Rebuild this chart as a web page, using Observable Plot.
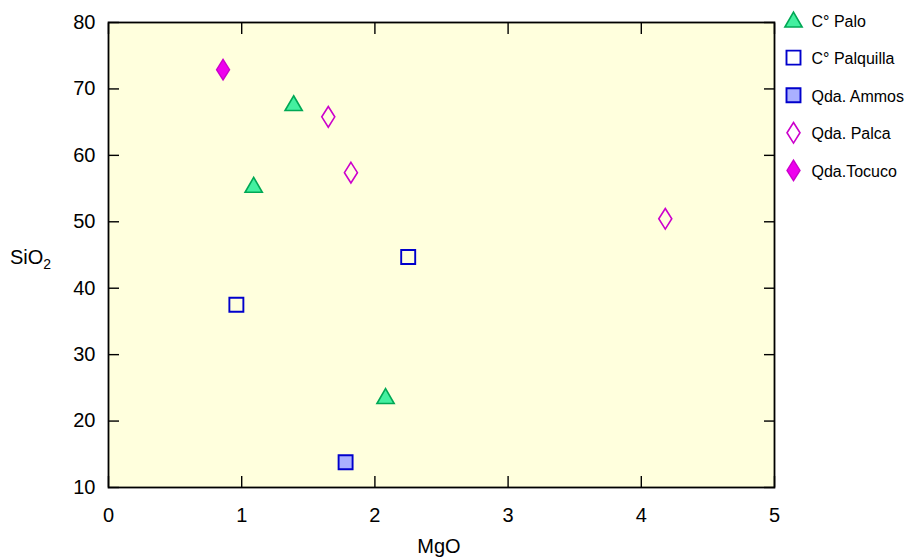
<!DOCTYPE html>
<html><head><meta charset="utf-8">
<script src="https://cdn.jsdelivr.net/npm/d3@7"></script>
<script src="https://cdn.jsdelivr.net/npm/@observablehq/plot@0.6"></script>
<style>body{margin:0;background:#fff;font-family:"Liberation Sans",Arial,sans-serif}</style>
</head><body><div id="chart"></div>
<script>
// ---- data ----
const seriesNames = ["C° Palo", "C° Palquilla", "Qda. Ammos", "Qda. Palca", "Qda.Tocuco"];
const paloMgO = [1.09, 1.39, 2.08];
const paloSiO2 = [55.5, 67.8, 23.7];
const palquillaMgO = [0.96, 2.25];
const palquillaSiO2 = [37.5, 44.7];
const ammosMgO = [1.78];
const ammosSiO2 = [13.8];
const palcaMgO = [1.65, 1.82, 4.18];
const palcaSiO2 = [65.8, 57.4, 50.45];
const tocucoMgO = [0.86];
const tocucoSiO2 = [72.9];
const xTicks = [0, 1, 2, 3, 4, 5];
const yTicks = [10, 20, 30, 40, 50, 60, 70, 80];

// ---- symbols ----
const R = 8;
const kOf = size => Math.sqrt(size / Math.PI) / 8;
const triangle = {draw(c, size) { const k = kOf(size); c.moveTo(0, -7.8 * k); c.lineTo(8.6 * k, 7 * k); c.lineTo(-8.6 * k, 7 * k); c.closePath(); }};
const square = {draw(c, size) { const k = kOf(size); c.moveTo(-7 * k, -7 * k); c.lineTo(7 * k, -7 * k); c.lineTo(7 * k, 7 * k); c.lineTo(-7 * k, 7 * k); c.closePath(); }};
const diamond = {draw(c, size) { const k = kOf(size); c.moveTo(0, -10.3 * k); c.lineTo(6.5 * k, 0); c.lineTo(0, 10.3 * k); c.lineTo(-6.5 * k, 0); c.closePath(); }};

const series = [
  {name: seriesNames[0], x: paloMgO, y: paloSiO2, symbol: triangle, fill: "#44F0A0", stroke: "#00A855", sw: 1.6},
  {name: seriesNames[1], x: palquillaMgO, y: palquillaSiO2, symbol: square, fill: "none", stroke: "#0000CC", sw: 1.9},
  {name: seriesNames[2], x: ammosMgO, y: ammosSiO2, symbol: square, fill: "#AAB0FF", stroke: "#0000CC", sw: 1.9},
  {name: seriesNames[3], x: palcaMgO, y: palcaSiO2, symbol: diamond, fill: "none", stroke: "#CC00CC", sw: 1.6},
  {name: seriesNames[4], x: tocucoMgO, y: tocucoSiO2, symbol: diamond, fill: "#EE00EE", stroke: "#CC00CC", sw: 1.4}
];

const dotMarks = series.map(s => Plot.dot(s.x.map((v, i) => ({MgO: v, SiO2: s.y[i]})), {
  x: "MgO", y: "SiO2", r: R, symbol: s.symbol, fill: s.fill, stroke: s.stroke, strokeWidth: s.sw
}));

const fmt = d => String(d);

const plot = Plot.plot({
  width: 909, height: 558,
  marginLeft: 108, marginRight: 135, marginTop: 22, marginBottom: 71,
  style: {fontFamily: "Liberation Sans, Arial, sans-serif", fontSize: "20px", color: "#000", background: "transparent", overflow: "visible"},
  x: {domain: [0, 5], label: null},
  y: {domain: [10, 80], label: null},
  marks: [
    Plot.frame({fill: "#FFFFDD", stroke: null}),
    Plot.axisX({ticks: xTicks, tickFormat: fmt, tickSize: -11, tickPadding: 31, label: null, strokeWidth: 1.4}),
    Plot.axisX({anchor: "top", ticks: xTicks, tickSize: -11, tickFormat: () => "", label: null, strokeWidth: 1.4}),
    Plot.axisY({ticks: yTicks, tickFormat: fmt, tickSize: -11, tickPadding: 24, label: null, strokeWidth: 1.4}),
    Plot.axisY({anchor: "right", ticks: yTicks, tickSize: -11, tickFormat: () => "", label: null, strokeWidth: 1.4}),
    Plot.frame({stroke: "#000", strokeWidth: 1.8}),
    ...dotMarks
  ]
});

const svg = d3.select(plot);
const xs = plot.scale("x");
// axis titles
svg.append("text").attr("x", xs.apply(2.5) - 2).attr("y", 553).attr("text-anchor", "middle")
  .attr("font-size", 20).attr("fill", "#000").text("MgO");
const yl = svg.append("text").attr("x", 10).attr("y", 264).attr("text-anchor", "start")
  .attr("font-size", 20).attr("fill", "#000");
yl.append("tspan").text("SiO");
yl.append("tspan").attr("font-size", 14).attr("dy", 5).text("2");

// legend
const lg = svg.append("g").attr("text-anchor", "start");
series.forEach((s, i) => {
  const cy = 20 + i * 37.6;
  lg.append("path").attr("transform", `translate(793.5,${cy})`)
    .attr("d", d3.symbol(s.symbol, Math.PI * R * R)())
    .attr("fill", s.fill).attr("stroke", s.stroke).attr("stroke-width", s.sw);
  lg.append("text").attr("x", 811.5).attr("y", cy + 6.5).attr("text-anchor", "start")
    .attr("font-size", 16).attr("fill", "#000").text(s.name);
});

document.getElementById("chart").appendChild(plot);
</script>
</body></html>
